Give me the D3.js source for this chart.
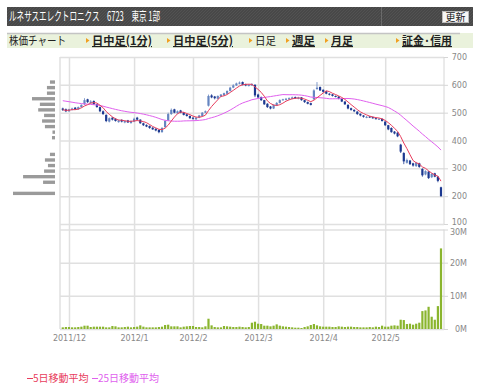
<!DOCTYPE HTML>
<html>
<head>
  <title>ルネサスエレクトロニクス 株価チャート</title>
  <meta charset="UTF-8">
</head>
<script src="https://d3js.org/d3.v7.min.js"></script>
<style>
  body { margin: 0; background: #fff; }
  svg { display: block; }
  .jp { font-family: "Noto Sans CJK JP", "Noto Sans", sans-serif; }
  .tick text { font-family: "DejaVu Sans", sans-serif; font-size: 8px; fill: #888; }
  .grid { stroke: #e0e0e0; stroke-width: 1.5; }
</style>
<body>
  <svg width="480" height="387"></svg>
</body>
<script>
  // 日足 2011/11/29 - 2012/5/29
  var priorCloses = [550, 555, 562, 560, 558, 565, 570, 568, 560, 555, 550, 548, 555, 550, 548, 545, 540, 535, 528, 520, 515, 510, 505, 512]

  var opens = [515, 512, 505, 510, 518, 512, 520, 530, 548, 535, 542, 530, 520, 505, 492, 468, 482, 478, 466, 474,
    465, 472, 463, 468, 482, 475, 462, 456, 452, 446, 442, 438, 430, 448, 472, 495, 512, 498, 508, 500,
    494, 488, 482, 476, 482, 488, 500, 525, 562, 558, 550, 558, 563, 568, 578, 590, 598, 604, 610, 602,
    596, 598, 600, 565, 556, 545, 532, 522, 515, 526, 535, 545, 546, 548, 550, 556, 550, 555, 545, 538,
    534, 548, 585, 592, 582, 576, 568, 566, 560, 558, 550, 540, 528, 516, 510, 504, 496, 490, 482, 486,
    484, 480, 476, 478, 468, 455, 445, 432, 428, 385, 355, 320, 328, 318, 308, 318, 298, 278, 288, 268,
    282, 270, 232]
  var highs = [518, 515, 514, 518, 520, 522, 530, 552, 550, 545, 544, 532, 522, 508, 494, 483, 484, 480, 475, 476,
    472, 474, 472, 482, 485, 476, 464, 458, 454, 448, 444, 440, 448, 474, 500, 515, 514, 508, 510, 502,
    496, 490, 484, 485, 492, 502, 508, 565, 566, 560, 562, 567, 572, 580, 593, 602, 608, 612, 612, 604,
    603, 606, 602, 568, 558, 546, 534, 524, 530, 538, 548, 550, 553, 555, 558, 558, 557, 556, 546, 540,
    536, 584, 610, 594, 584, 578, 570, 567, 562, 559, 551, 541, 530, 518, 512, 505, 497, 491, 488, 488,
    486, 482, 480, 479, 469, 456, 447, 434, 430, 388, 358, 335, 330, 320, 323, 320, 300, 293, 290, 283,
    284, 272, 234]
  var lows = [506, 502, 503, 508, 510, 510, 518, 528, 535, 532, 528, 518, 502, 492, 466, 465, 472, 468, 464, 465,
    462, 463, 460, 466, 472, 460, 452, 448, 442, 438, 433, 426, 428, 446, 470, 492, 498, 496, 498, 490,
    486, 478, 475, 474, 480, 486, 498, 522, 552, 548, 548, 556, 560, 566, 576, 588, 596, 602, 598, 595,
    594, 596, 556, 552, 542, 528, 517, 512, 513, 524, 533, 543, 544, 546, 548, 550, 548, 543, 535, 530,
    526, 546, 582, 578, 572, 566, 562, 558, 555, 548, 538, 528, 512, 507, 502, 492, 487, 482, 480, 481,
    478, 476, 474, 468, 452, 437, 428, 422, 412, 355, 315, 317, 312, 306, 305, 302, 270, 275, 262, 265,
    268, 250, 198]
  var closes = [510, 505, 512, 515, 512, 520, 528, 545, 538, 540, 530, 520, 505, 495, 470, 480, 475, 470, 472, 468,
    470, 465, 470, 478, 475, 462, 455, 450, 445, 440, 436, 430, 445, 470, 495, 510, 500, 505, 500, 492,
    488, 480, 478, 482, 490, 500, 505, 560, 555, 552, 560, 565, 570, 578, 590, 598, 605, 608, 600, 598,
    600, 603, 562, 555, 545, 530, 520, 515, 528, 535, 545, 548, 550, 552, 555, 552, 555, 545, 538, 532,
    528, 580, 590, 580, 575, 568, 565, 560, 558, 550, 540, 530, 515, 510, 505, 495, 490, 485, 485, 483,
    480, 478, 478, 470, 455, 440, 430, 425, 415, 360, 325, 330, 315, 310, 320, 305, 275, 290, 265, 280,
    270, 255, 200]
  // 出来高 (百万株)
  var volumes = [0.5, 0.6, 0.6, 0.5, 0.5, 0.6, 0.7, 1.0, 1.0, 0.6, 0.7, 0.7, 0.7, 0.7, 0.5, 0.5, 0.9, 0.8, 0.5, 0.5,
    0.6, 0.7, 0.5, 0.6, 0.7, 1.1, 0.7, 0.5, 0.5, 0.5, 0.5, 0.6, 0.7, 1.2, 1.3, 0.8, 0.8, 0.8, 0.5, 0.7,
    0.8, 0.9, 0.9, 0.6, 0.6, 0.5, 0.8, 3.1, 1.1, 0.6, 0.5, 0.5, 0.9, 0.8, 0.7, 0.6, 0.6, 0.7, 0.6, 0.5,
    0.6, 1.9, 2.2, 1.6, 1.5, 1.0, 1.0, 0.8, 1.0, 1.4, 1.0, 0.8, 0.7, 0.6, 0.5, 0.4, 0.4, 0.3, 0.6, 0.8,
    1.2, 1.5, 1.1, 0.8, 0.7, 0.7, 0.7, 0.6, 0.6, 0.8, 0.7, 0.6, 0.7, 0.7, 0.6, 0.6, 0.5, 0.5, 0.5, 0.6,
    0.5, 0.7, 0.6, 1.0, 0.7, 0.7, 1.0, 1.1, 1.0, 2.8, 2.7, 1.5, 1.6, 1.3, 1.6, 1.9, 5.4, 5.6, 6.7, 3.7,
    2.8, 6.9, 24.3]

  var monthTicks = [2, 23, 42, 63, 84, 104]
  var monthLabels = ['2011/12', '2012/1', '2012/2', '2012/3', '2012/4', '2012/5']
  var priceTicks = [100, 200, 300, 400, 500, 600, 700]
  var volumeTicks = [0, 10, 20, 30]

  // 価格帯別出来高
  var profilePrices = [610, 590, 570, 550, 530, 510, 490, 470, 450, 430, 410, 350, 330, 310, 290, 270, 250, 210]
  var profileVolumes = [3, 4.8, 4.8, 13.7, 9, 10, 6.5, 7.7, 6, 1.5, 1.8, 3, 6, 4.2, 6.5, 19, 7.1, 25]

  var navItems = [
    { t: '日中足(1分)', x: 92, w: 60, link: true },
    { t: '日中足(5分)', x: 173, w: 60, link: true },
    { t: '日足', x: 255, w: 21, link: false },
    { t: '週足', x: 292, w: 23, link: true },
    { t: '月足', x: 331, w: 22, link: true },
    { t: '証金·信用', x: 402, w: 50, link: true }
  ]

  var svg = d3.select('svg')

  // ヘッダー
  var defs = svg.append('defs')
  var pat = defs.append('pattern').attr('id', 'hatch').attr('width', 3).attr('height', 3)
    .attr('patternUnits', 'userSpaceOnUse')
  pat.append('rect').attr('width', 3).attr('height', 3).attr('fill', '#484848')
  pat.append('path').attr('d', 'M0,3 L3,0').attr('stroke', '#525252').attr('stroke-width', 1)

  svg.append('rect').attr('x', 7).attr('y', 7).attr('width', 466).attr('height', 19).attr('fill', 'url(#hatch)')
  svg.append('line').attr('x1', 381.5).attr('x2', 381.5).attr('y1', 7).attr('y2', 26)
    .attr('stroke', '#6a6a6a')
  svg.append('text').attr('class', 'jp').attr('x', 9).attr('y', 21)
    .attr('fill', '#fff').attr('font-size', 12.5)
    .attr('textLength', 151).attr('lengthAdjust', 'spacingAndGlyphs')
    .text('ルネサスエレクトロニクス　6723　東京 1部')
  svg.append('rect').attr('x', 442.5).attr('y', 11.5).attr('width', 26).attr('height', 11)
    .attr('fill', '#f6f6f6').attr('stroke', '#bbb')
  svg.append('text').attr('class', 'jp').attr('x', 455.5).attr('y', 21)
    .attr('text-anchor', 'middle').attr('font-size', 10).attr('fill', '#222').text('更新')

  // ナビ
  svg.append('rect').attr('x', 7).attr('y', 33).attr('width', 466).attr('height', 15).attr('fill', '#eaf2dc')
  svg.append('line').attr('x1', 7).attr('x2', 460).attr('y1', 33.5).attr('y2', 33.5)
    .attr('stroke', '#c4c4c4').attr('stroke-width', 1.5)
  svg.append('text').attr('class', 'jp').attr('x', 9).attr('y', 45)
    .attr('font-size', 11.5).attr('fill', '#222')
    .attr('textLength', 57).attr('lengthAdjust', 'spacingAndGlyphs')
    .text('株価チャート')

  var nav = svg.selectAll('.nav').data(navItems).enter().append('g').attr('class', 'nav')
  nav.append('path')
    .attr('d', function(d) { return 'M' + (d.x - 6) + ',38 L' + (d.x - 2.5) + ',40.5 L' + (d.x - 6) + ',43 Z' })
    .attr('fill', '#f0a020')
  nav.append('text').attr('class', 'jp')
    .attr('x', function(d) { return d.x })
    .attr('y', 45)
    .attr('font-size', 11.5)
    .attr('textLength', function(d) { return d.w })
    .attr('lengthAdjust', 'spacingAndGlyphs')
    .attr('font-weight', function(d) { return d.link ? 'bold' : 'normal' })
    .attr('text-decoration', function(d) { return d.link ? 'underline' : 'none' })
    .attr('fill', '#222')
    .text(function(d) { return d.t })

  // スケール
  var xScale = d3.scaleLinear().domain([-0.9, 122.97]).range([60, 444])
  var yPrice = d3.scaleLinear().domain([100, 700]).range([224, 57])
  var yVol = d3.scaleLinear().domain([0, 30]).range([329, 229.5])
  var xProfile = d3.scaleLinear().domain([0, 25]).range([55, 13])

  // グリッド
  var g = svg.append('g')

  g.append('g')
    .attr('transform', 'translate(60,0)')
    .call(d3.axisLeft(yPrice).tickValues(priceTicks).tickSize(-384).tickFormat(''))
    .call(function(s) { s.select('.domain').remove(); s.selectAll('line').attr('class', 'grid') })

  g.append('g')
    .attr('transform', 'translate(60,0)')
    .call(d3.axisLeft(yVol).tickValues(volumeTicks).tickSize(-384).tickFormat(''))
    .call(function(s) { s.select('.domain').remove(); s.selectAll('line').attr('class', 'grid') })

  g.append('g')
    .attr('transform', 'translate(0,329)')
    .call(d3.axisBottom(xScale).tickValues(monthTicks).tickSize(-272).tickPadding(6)
      .tickFormat(function(d, i) { return monthLabels[i] }))
    .call(function(s) {
      s.select('.domain').remove()
      s.selectAll('line').attr('class', 'grid')
    })

  g.append('line').attr('class', 'grid').attr('x1', 60).attr('x2', 60).attr('y1', 57).attr('y2', 329)

  // 右軸 (100 と 30M は重なりそうなので少しずらす)
  g.append('g')
    .attr('transform', 'translate(444,0)')
    .call(d3.axisRight(yPrice).tickValues(priceTicks).tickSize(4).tickPadding(19))
    .call(function(s) {
      s.select('.domain').attr('stroke', '#d6d6d6').attr('d', 'M0,57V224')
      s.selectAll('line').attr('stroke', '#d6d6d6')
      s.selectAll('text').attr('text-anchor', 'end')
        .attr('dy', function(d) { return d === 100 ? '0em' : '0.32em' })
    })
  g.append('g')
    .attr('transform', 'translate(444,0)')
    .call(d3.axisRight(yVol).tickValues(volumeTicks).tickSize(4).tickPadding(19)
      .tickFormat(function(d) { return d + 'M' }))
    .call(function(s) {
      s.select('.domain').attr('stroke', '#d6d6d6').attr('d', 'M0,229.5V329')
      s.selectAll('line').attr('stroke', '#d6d6d6')
      s.selectAll('text').attr('text-anchor', 'end')
        .attr('dy', function(d) { return d === 30 ? '0.62em' : '0.32em' })
    })
  svg.selectAll('.tick text').attr('fill', '#888')

  // 価格帯別出来高
  svg.append('g').selectAll('rect')
    .data(profilePrices)
    .enter().append('rect')
    .attr('x', function(d, i) { return xProfile(profileVolumes[i]) })
    .attr('y', function(d) { return yPrice(d + 10) + 1.1 })
    .attr('width', function(d, i) { return 55 - xProfile(profileVolumes[i]) })
    .attr('height', function(d) { return yPrice(d - 10) - yPrice(d + 10) - 2.2 })
    .attr('fill', '#9a9a9a')

  // ローソク足
  var candles = svg.append('g').selectAll('g')
    .data(closes)
    .enter().append('g')

  function candleColor(i) {
    return closes[i] >= opens[i] ? '#6585c0' : '#1c3890'
  }

  candles.append('line')
    .attr('x1', function(d, i) { return xScale(i) })
    .attr('x2', function(d, i) { return xScale(i) })
    .attr('y1', function(d, i) { return yPrice(highs[i]) })
    .attr('y2', function(d, i) { return yPrice(lows[i]) })
    .attr('stroke', function(d, i) { return candleColor(i) })
    .attr('stroke-width', 0.8)

  candles.append('rect')
    .attr('x', function(d, i) { return xScale(i) - 1.1 })
    .attr('width', 2.2)
    .attr('y', function(d, i) { return yPrice(Math.max(opens[i], closes[i])) })
    .attr('height', function(d, i) {
      return Math.max(1, yPrice(Math.min(opens[i], closes[i])) - yPrice(Math.max(opens[i], closes[i])))
    })
    .attr('fill', function(d, i) { return candleColor(i) })

  // 移動平均
  var allCloses = priorCloses.concat(closes)
  function movingAverage(n) {
    return closes.map(function(d, i) {
      var end = i + priorCloses.length
      return d3.mean(allCloses.slice(end - n + 1, end + 1))
    })
  }

  var line = d3.line()
    .x(function(d, i) { return xScale(i) })
    .y(function(d) { return yPrice(d) })

  svg.append('path').datum(movingAverage(25))
    .attr('d', line).attr('fill', 'none').attr('stroke', '#e060ee').attr('stroke-width', 1)
  svg.append('path').datum(movingAverage(5))
    .attr('d', line).attr('fill', 'none').attr('stroke', '#e83c5c').attr('stroke-width', 1)

  // 出来高
  svg.append('g').selectAll('rect')
    .data(volumes)
    .enter().append('rect')
    .attr('x', function(d, i) { return xScale(i) - 1.1 })
    .attr('width', 2.2)
    .attr('y', function(d) { return yVol(d) })
    .attr('height', function(d) { return yVol(0) - yVol(d) })
    .attr('fill', '#8ab52e')

  // 凡例
  var legend = [
    { t: '5日移動平均', x: 27, c: '#e83c5c' },
    { t: '25日移動平均', x: 92, c: '#e060ee' }
  ]
  var lg = svg.selectAll('.legend').data(legend).enter().append('g').attr('class', 'legend')
  lg.append('line')
    .attr('x1', function(d) { return d.x })
    .attr('x2', function(d) { return d.x + 6 })
    .attr('y1', 378.5).attr('y2', 378.5)
    .attr('stroke', function(d) { return d.c })
  lg.append('text').attr('class', 'jp')
    .attr('x', function(d) { return d.x + 6 })
    .attr('y', 382)
    .attr('font-size', 10)
    .attr('fill', function(d) { return d.c })
    .text(function(d) { return d.t })
</script>
</html>
